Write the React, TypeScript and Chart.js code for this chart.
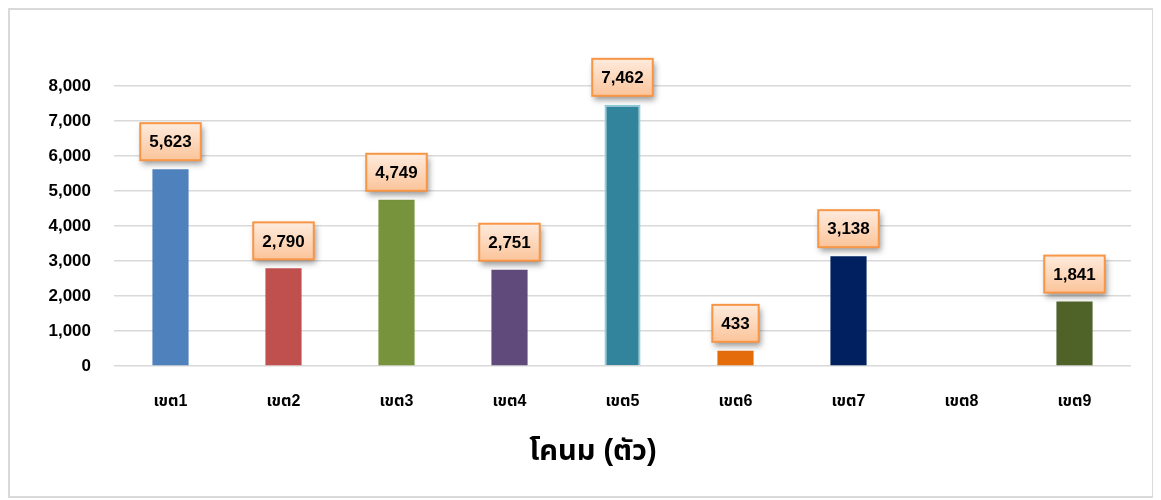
import React, { useEffect, useRef } from "react";
import { Chart, registerables } from "chart.js";

Chart.register(...registerables);

const categories = ["เขต1", "เขต2", "เขต3", "เขต4", "เขต5", "เขต6", "เขต7", "เขต8", "เขต9"];
const values = [5623, 2790, 4749, 2751, 7462, 433, 3138, 0, 1841];
const barColors = ["#4F81BD", "#C0504D", "#77933C", "#604A7B", "#31849B", "#E46C0A", "#002060", "#8064A2", "#4F6228"];
const barBorders = ["#4F81BD", "#C0504D", "#77933C", "#604A7B", "#92CDDC", "#E46C0A", "#002060", "#8064A2", "#4F6228"];
const barBorderWidths = [0, 0, 0, 0, 2, 0, 0, 0, 0];
const yTicks = [0, 1000, 2000, 3000, 4000, 5000, 6000, 7000, 8000];
const axisTitle = "โคนม (ตัว)";

const FONT = "'Liberation Sans', Tahoma, 'Noto Sans Thai', Loma, Garuda, 'Noto Sans', sans-serif";

const fmt = (v: number) => v.toLocaleString("en-US");

const labelPlugin = {
  id: "boxLabels",
  afterDatasetsDraw(chart: any) {
    const ctx = chart.ctx;
    const meta = chart.getDatasetMeta(0);
    ctx.save();
    ctx.font = `bold 17px ${FONT}`;
    meta.data.forEach((bar: any, i: number) => {
      const v = values[i];
      if (!v) return;
      const text = fmt(v);
      const tw = ctx.measureText(text).width;
      const w = tw + 18;
      const h = 37;
      const x = bar.x - w / 2;
      const y = bar.y - 9 - h;
      ctx.save();
      ctx.shadowColor = "rgba(0,0,0,0.4)";
      ctx.shadowBlur = 6;
      ctx.shadowOffsetX = 2;
      ctx.shadowOffsetY = 4;
      const g = ctx.createLinearGradient(0, y, 0, y + h);
      g.addColorStop(0, "#FEEBDD");
      g.addColorStop(1, "#FBC49A");
      ctx.fillStyle = g;
      ctx.fillRect(x, y, w, h);
      ctx.restore();
      ctx.strokeStyle = "#F79646";
      ctx.lineWidth = 2;
      ctx.strokeRect(x, y, w, h);
      ctx.fillStyle = "#000";
      ctx.textAlign = "center";
      ctx.textBaseline = "middle";
      ctx.fillText(text, bar.x, y + h / 2 + 1);
    });
    ctx.restore();
  },
};

const titlePlugin = {
  id: "xTitle",
  afterDraw(chart: any) {
    const ctx = chart.ctx;
    ctx.save();
    ctx.font = `bold 29px ${FONT}`;
    ctx.fillStyle = "#000";
    ctx.textAlign = "center";
    ctx.textBaseline = "middle";
    const a = chart.chartArea;
    ctx.fillText(axisTitle, a.left + (a.right - a.left) * 0.471, a.bottom + 86);
    ctx.restore();
  },
};

export default function App() {
  const ref = useRef<HTMLCanvasElement>(null);
  useEffect(() => {
    if (!ref.current) return;
    const chart = new Chart(ref.current, {
      type: "bar",
      data: {
        labels: categories,
        datasets: [
          {
            data: values,
            backgroundColor: barColors,
            borderColor: barBorders,
            borderWidth: barBorderWidths,
            barPercentage: 0.32,
            categoryPercentage: 1,
          },
        ],
      },
      options: {
        responsive: false,
        animation: false,
        layout: { padding: { top: 76, right: 21, left: 0, bottom: 0 } },
        plugins: { legend: { display: false }, tooltip: { enabled: false } },
        scales: {
          x: {
            grid: { display: false, drawTicks: false },
            border: { display: false },
            ticks: { color: "#000", font: { family: FONT, size: 16, weight: "bold" }, padding: 26 },
            afterFit: (s: any) => {
              s.height = 130;
            },
          },
          y: {
            min: 0,
            max: 8000,
            afterBuildTicks: (s: any) => {
              s.ticks = yTicks.map((v) => ({ value: v }));
            },
            grid: { color: "#D9D9D9", lineWidth: 1.5, drawTicks: false },
            border: { display: false },
            ticks: {
              color: "#000",
              font: { family: FONT, size: 17, weight: "bold" },
              padding: 23,
              callback: (v: any) => fmt(Number(v)),
            },
            afterFit: (s: any) => {
              s.width = 104;
            },
          },
        },
      },
      plugins: [labelPlugin, titlePlugin],
    });
    return () => chart.destroy();
  }, []);
  return (
    <div
      style={{
        width: 1146,
        height: 490,
        boxSizing: "border-box",
        border: "2px solid #D9D9D9",
        background: "#fff",
      }}
    >
      <canvas ref={ref} width={1142} height={486} style={{ display: "block" }} />
    </div>
  );
}
